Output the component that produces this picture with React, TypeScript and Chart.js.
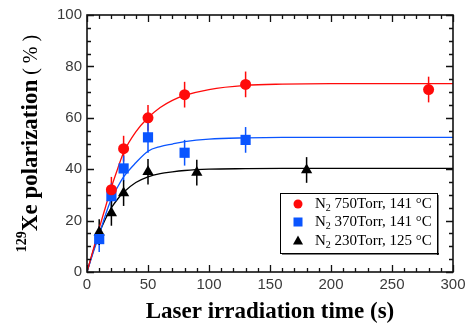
import React, { useEffect, useRef } from 'react';
import { Chart, registerables } from 'chart.js';
Chart.register(...registerables);

// ---- data ----
const X_TICKS = [0, 50, 100, 150, 200, 250, 300];
const Y_TICKS = [0, 20, 40, 60, 80, 100];

const redT = [20, 30, 50, 80, 130, 280];
const redP = [32, 48, 60, 69, 73, 71];
const redErr = [5, 5, 5, 5, 5, 5];

const blueT = [10, 20, 30, 50, 80, 130];
const blueP = [12.8, 29.5, 40.3, 52.4, 46.4, 51.4];
const blueErr = [5, 5, 5, 6, 5, 5];

const blackT = [10, 20, 30, 50, 90, 180];
const blackP = [15.5, 23, 30.7, 39, 38.7, 39.7];
const blackErr = [5, 5, 5, 5, 5, 5];

const fitT = [0, 5, 10, 15, 20, 25, 30, 40, 50, 60, 70, 80, 100, 130, 160, 200, 300];
const redFit = [0, 8.5, 17, 25, 33, 40, 46.5, 54.5, 60, 64, 66.8, 68.7, 71, 72.6, 73.1, 73.3, 73.3];
const blueFit = [0, 7.5, 14.5, 22, 28.5, 33, 37, 42.5, 47, 48.8, 49.8, 50.7, 51.7, 52.2, 52.4, 52.4, 52.4];
const blackFit = [0, 8, 15, 20.5, 25, 28.3, 31, 34.8, 37, 38.3, 39, 39.5, 40, 40.2, 40.3, 40.3, 40.3];

const legendRows = [
  { pre: 'N', sub: '2', post: ' 750Torr, 141 °C' },
  { pre: 'N', sub: '2', post: ' 370Torr, 141 °C' },
  { pre: 'N', sub: '2', post: ' 230Torr, 125 °C' },
];

const RED = '#ff0a0a';
const BLUE = '#0a55ff';
const BLACK = '#000000';

const pts = (xs: number[], ys: number[]) => xs.map((x, i) => ({ x, y: ys[i] }));

const errorBars = [
  { t: redT, p: redP, e: redErr, c: RED },
  { t: blueT, p: blueP, e: blueErr, c: BLUE },
  { t: blackT, p: blackP, e: blackErr, c: BLACK },
];

const decorPlugin = {
  id: 'decor',
  beforeDatasetsDraw(chart: any) {
    const { ctx, scales } = chart;
    const xs = scales.x, ys = scales.y;
    ctx.save();
    ctx.lineWidth = 1.5;
    errorBars.forEach((s) => {
      ctx.strokeStyle = s.c;
      s.t.forEach((t, i) => {
        const px = xs.getPixelForValue(t);
        ctx.beginPath();
        ctx.moveTo(px, ys.getPixelForValue(s.p[i] - s.e[i]));
        ctx.lineTo(px, ys.getPixelForValue(s.p[i] + s.e[i]));
        ctx.stroke();
      });
    });
    ctx.restore();
  },
  afterDraw(chart: any) {
    const { ctx, chartArea: a, scales } = chart;
    const xs = scales.x, ys = scales.y;
    ctx.save();
    ctx.strokeStyle = '#111';
    ctx.lineWidth = 1.6;
    ctx.strokeRect(a.left, a.top, a.right - a.left, a.bottom - a.top);
    ctx.lineWidth = 1.3;
    for (let v = 0; v <= 300; v += 10) {
      const px = Math.round(xs.getPixelForValue(v)) + 0.5;
      const len = v % 50 === 0 ? 7 : 4;
      ctx.beginPath();
      ctx.moveTo(px, a.bottom); ctx.lineTo(px, a.bottom - len);
      ctx.moveTo(px, a.top); ctx.lineTo(px, a.top + len);
      ctx.stroke();
    }
    for (let v = 0; v <= 100; v += 5) {
      const py = Math.round(ys.getPixelForValue(v)) + 0.5;
      const len = v % 20 === 0 ? 7 : 4;
      ctx.beginPath();
      ctx.moveTo(a.left, py); ctx.lineTo(a.left + len, py);
      ctx.moveTo(a.right, py); ctx.lineTo(a.right - len, py);
      ctx.stroke();
    }

    // x title
    ctx.fillStyle = '#000';
    ctx.font = 'bold 23px "Liberation Serif"';
    ctx.textAlign = 'center';
    ctx.textBaseline = 'alphabetic';
    ctx.fillText('Laser irradiation time (s)', (a.left + a.right) / 2, 318);

    // y title (rotated)
    ctx.save();
    ctx.translate(37, (a.top + a.bottom) / 2);
    ctx.rotate(-Math.PI / 2);
    const supFont = 'bold 14px "Liberation Serif"';
    const mainFont = 'bold 23px "Liberation Serif"';
    const unitFont = '20px "Liberation Serif"';
    const sup = '129';
    const main = 'Xe polarization';
    const unit = ' ( % )';
    ctx.font = supFont; const w1 = ctx.measureText(sup).width;
    ctx.font = mainFont; const w2 = ctx.measureText(main).width;
    ctx.font = unitFont; const w3 = ctx.measureText(unit).width;
    let x0 = -(w1 + w2 + w3) / 2;
    ctx.textAlign = 'left';
    ctx.font = supFont; ctx.fillText(sup, x0, -11); x0 += w1;
    ctx.font = mainFont; ctx.fillText(main, x0, 0); x0 += w2;
    ctx.font = unitFont; ctx.fillText(unit, x0, 0);
    ctx.restore();

    // legend
    const bw = 157, bh = 60;
    const bx = a.right - 16 - bw, by = a.bottom - 19 - bh;
    ctx.fillStyle = '#fff';
    ctx.fillRect(bx, by, bw, bh);
    ctx.fillStyle = '#000';
    ctx.fillRect(bx + 2, by + bh, bw, 1.5);
    ctx.fillRect(bx + bw, by + 2, 1.5, bh);
    ctx.strokeStyle = '#000';
    ctx.lineWidth = 1;
    ctx.strokeRect(bx + 0.5, by + 0.5, bw, bh);
    const rowsY = [by + 11, by + 29, by + 48];
    const mx = bx + 18, tx = bx + 35;
    ctx.fillStyle = RED;
    ctx.beginPath(); ctx.arc(mx, rowsY[0], 4.5, 0, Math.PI * 2); ctx.fill();
    ctx.fillStyle = BLUE;
    ctx.fillRect(mx - 4.5, rowsY[1] - 4.5, 9, 9);
    ctx.fillStyle = BLACK;
    ctx.beginPath();
    ctx.moveTo(mx, rowsY[2] - 5.5); ctx.lineTo(mx + 5, rowsY[2] + 3.5); ctx.lineTo(mx - 5, rowsY[2] + 3.5);
    ctx.closePath(); ctx.fill();
    ctx.fillStyle = '#000';
    ctx.textAlign = 'left';
    ctx.textBaseline = 'middle';
    legendRows.forEach((r, i) => {
      let x = tx;
      const y = rowsY[i];
      ctx.font = '15px "Liberation Serif"';
      ctx.fillText(r.pre, x, y); x += ctx.measureText(r.pre).width;
      ctx.font = '10px "Liberation Serif"';
      ctx.fillText(r.sub, x, y + 4); x += ctx.measureText(r.sub).width;
      ctx.font = '15px "Liberation Serif"';
      ctx.fillText(r.post, x, y);
    });
    ctx.restore();
  },
};

export default function App() {
  const ref = useRef<HTMLCanvasElement | null>(null);
  useEffect(() => {
    if (!ref.current) return;
    const lineCommon = {
      type: 'line' as const,
      pointRadius: 0,
      borderWidth: 1.3,
      fill: false,
      cubicInterpolationMode: 'monotone' as const,
      order: 2,
    };
    const chart = new Chart(ref.current, {
      type: 'scatter',
      data: {
        datasets: [
          { ...lineCommon, data: pts(fitT, redFit), borderColor: RED },
          { ...lineCommon, data: pts(fitT, blueFit), borderColor: BLUE },
          { ...lineCommon, data: pts(fitT, blackFit), borderColor: BLACK },
          { data: pts(redT, redP), pointStyle: 'circle', pointRadius: 5.5, backgroundColor: RED, borderColor: RED, borderWidth: 0, order: 1 },
          { data: pts(blueT, blueP), pointStyle: 'rect', pointRadius: 7.2, backgroundColor: BLUE, borderColor: BLUE, borderWidth: 0, order: 1 },
          { data: pts(blackT, blackP), pointStyle: 'triangle', pointRadius: 6.5, backgroundColor: BLACK, borderColor: BLACK, borderWidth: 0, order: 1 },
        ] as any,
      },
      options: {
        animation: false,
        responsive: false,
        layout: { padding: { left: 0, top: 15, right: 19, bottom: 0 } },
        plugins: { legend: { display: false }, tooltip: { enabled: false } },
        scales: {
          x: {
            type: 'linear',
            min: 0,
            max: 300,
            afterFit: (s: any) => { s.height = 54; },
            afterBuildTicks: (s: any) => { s.ticks = X_TICKS.map((v) => ({ value: v })); },
            grid: { display: false, drawTicks: false, tickLength: 0 },
            border: { display: false },
            ticks: { padding: 4, color: '#3a3a3a', font: { family: '"Liberation Sans"', size: 15 } },
          },
          y: {
            type: 'linear',
            min: 0,
            max: 100,
            afterFit: (s: any) => { s.width = 87; },
            afterBuildTicks: (s: any) => { s.ticks = Y_TICKS.map((v) => ({ value: v })); },
            grid: { display: false, drawTicks: false, tickLength: 0 },
            border: { display: false },
            ticks: { padding: 5, color: '#3a3a3a', font: { family: '"Liberation Sans"', size: 15 } },
          },
        },
      },
      plugins: [decorPlugin],
    });
    return () => chart.destroy();
  }, []);
  return (
    <div style={{ position: 'absolute', left: 0, top: 0, width: 472, height: 326, background: '#fff' }}>
      <canvas ref={ref} width={472} height={326} />
    </div>
  );
}
